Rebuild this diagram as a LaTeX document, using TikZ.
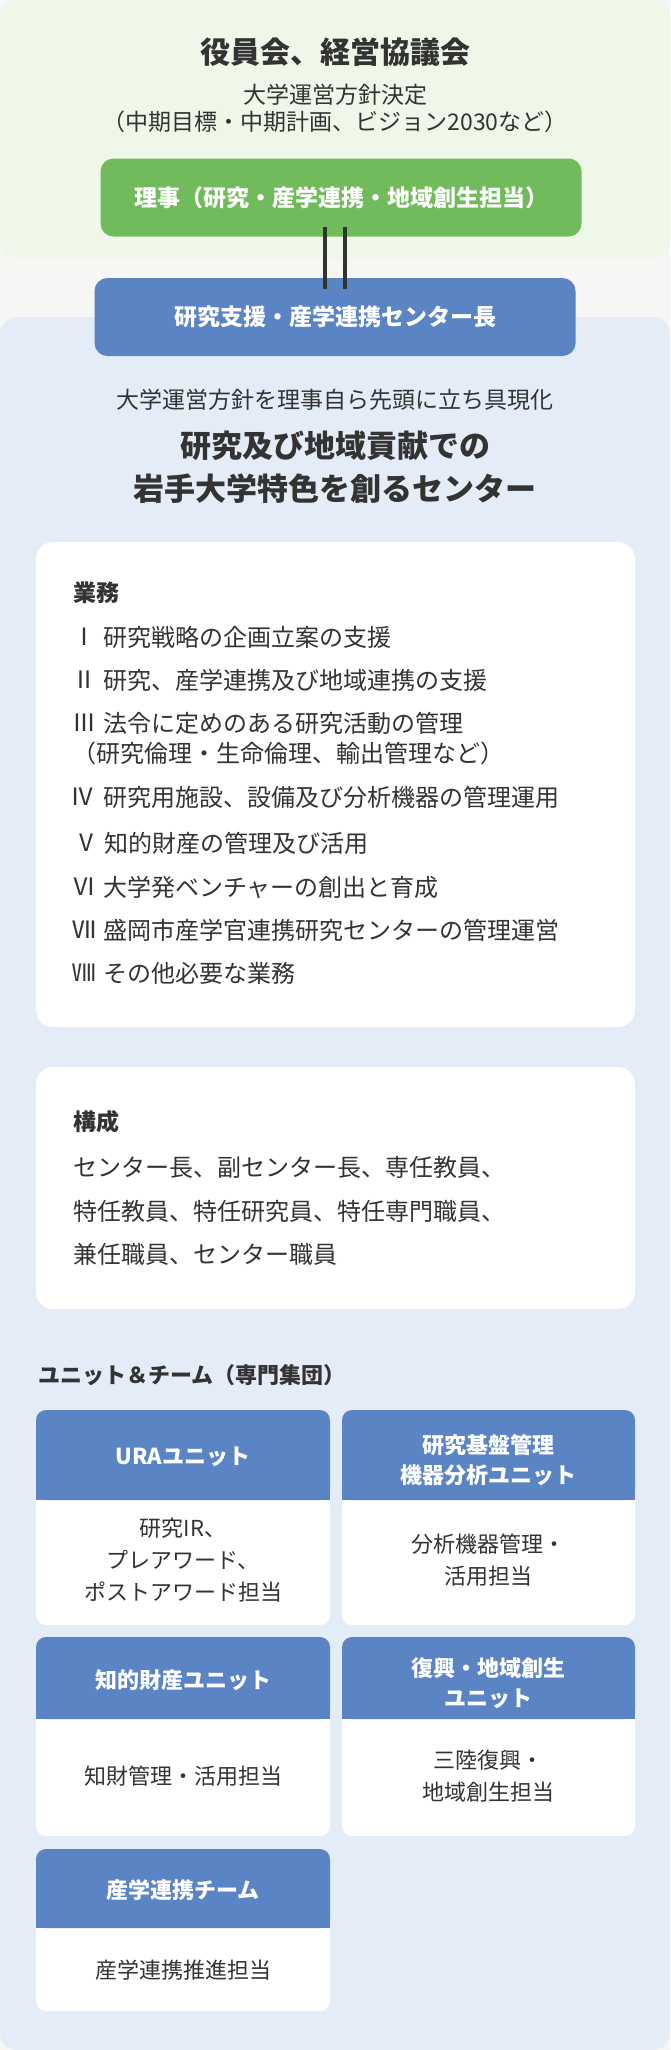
\documentclass[tikz,border=0pt]{standalone}
\usepackage{fontspec}
\setmainfont{Noto Sans CJK JP}
\newcommand\fsz[2]{\fontsize{#1}{#2}\selectfont}
\definecolor{ink}{HTML}{333333}
\definecolor{pagegray}{HTML}{F6F6F4}
\definecolor{boardgreen}{HTML}{EFF7E9}
\definecolor{centerblue}{HTML}{E4ECF7}
\definecolor{rijigreen}{HTML}{72BB5C}
\definecolor{headblue}{HTML}{5B84C4}
\tikzstyle{every node}=[inner sep=0pt, text=ink]
\tikzstyle{rolebox}=[rounded corners=13pt, minimum width=481pt, minimum height=78pt, text=white, font=\bfseries\fsz{23}{28}]
\tikzstyle{panel}=[fill=white, rounded corners=17pt]
\tikzstyle{panelhead}=[anchor=west, font=\bfseries\fsz{23}{28}]
\tikzstyle{item}=[anchor=west, font=\fsz{24}{28}]
\tikzstyle{unithead}=[text=white, align=center, font=\bfseries\fsz{22}{30}]
\tikzstyle{unitbody}=[align=center, font=\fsz{22}{32}]

\begin{document}
\begin{tikzpicture}[x=1pt, y=-1pt]
\useasboundingbox (0,0) rectangle (670,2050);
% Backgrounds
    \fill[pagegray] (0,0) rectangle (670,2050);
    \fill[boardgreen, rounded corners=17pt] (0,0) rectangle (670,258);
    \fill[centerblue, rounded corners=17pt] (0,317) rectangle (670,2050);
% Board and director
    \node[font=\bfseries\fsz{30}{36}] (board) at (335,52) {役員会、経営協議会};
    \node[font=\fsz{23}{27}, align=center] (policy) at (335,108.5) {大学運営方針決定\\（中期目標・中期計画、ビジョン2030など）};
    \node[rolebox, fill=rijigreen] (riji) at (341,197.5) {理事（研究・産学連携・地域創生担当）};
    \node[rolebox, fill=headblue] (chief) at (335,317) {研究支援・産学連携センター長};
    \draw[ink, line width=4.5pt] ([xshift=-10pt, yshift=10pt]riji.south -| chief.south) -- ([xshift=-10pt, yshift=-11pt]chief.north);
    \draw[ink, line width=4.5pt] ([xshift=10pt, yshift=10pt]riji.south -| chief.south) -- ([xshift=10pt, yshift=-11pt]chief.north);
% Mission
    \node[font=\fsz{23}{28}] (mission) at (335,400) {大学運営方針を理事自ら先頭に立ち具現化};
    \node[font=\bfseries\fsz{31}{43}, align=center] (slogan) at (335,467.5) {研究及び地域貢献での\\岩手大学特色を創るセンター};
% Duties
    \fill[panel] (36,542) rectangle (635,1027);
    \node[panelhead] (duties) at (73,593) {業務};
    \node[item] (n1) at (72,637) {Ⅰ};
    \node[item] (d1) at (103,637) {研究戦略の企画立案の支援};
    \node[item] (n2) at (72,680) {Ⅱ};
    \node[item] (d2) at (103,680) {研究、産学連携及び地域連携の支援};
    \node[item] (n3) at (72,723) {Ⅲ};
    \node[item] (d3) at (103,723) {法令に定めのある研究活動の管理};
    \node[item] (d3b) at (72,753) {（研究倫理・生命倫理、輸出管理など）};
    \node[item] (n4) at (70,797) {Ⅳ};
    \node[item] (d4) at (103,797) {研究用施設、設備及び分析機器の管理運用};
    \node[item] (n5) at (74,843) {Ⅴ};
    \node[item] (d5) at (104,843) {知的財産の管理及び活用};
    \node[item] (n6) at (72,887) {Ⅵ};
    \node[item] (d6) at (103,887) {大学発ベンチャーの創出と育成};
    \node[item] (n7) at (72,930) {Ⅶ};
    \node[item] (d7) at (103,930) {盛岡市産学官連携研究センターの管理運営};
    \node[item] (n8) at (72,973) {Ⅷ};
    \node[item] (d8) at (103,973) {その他必要な業務};
% Staff
    \fill[panel] (36,1067) rectangle (635,1309);
    \node[panelhead] (staff) at (73,1122) {構成};
    \node[item] (s1) at (73,1167) {センター長、副センター長、専任教員、};
    \node[item] (s2) at (73,1211) {特任教員、特任研究員、特任専門職員、};
    \node[item] (s3) at (73,1254) {兼任職員、センター職員};
% Units and teams
    \node[anchor=west, font=\bfseries\fsz{22}{28}] (units) at (38,1375) {ユニット＆チーム（専門集団）};
    \fill[white, rounded corners=10pt] (36,1410) rectangle (330,1625);
    \fill[headblue, rounded corners=10pt] (36,1410) rectangle (330,1500);
    \fill[headblue] (36,1425) rectangle (330,1500);
    \node[unithead] (ura) at (183,1457) {URAユニット};
    \node[unitbody] (urabody) at (183,1560) {研究IR、\\プレアワード、\\ポストアワード担当};
    \fill[white, rounded corners=10pt] (342,1410) rectangle (635,1625);
    \fill[headblue, rounded corners=10pt] (342,1410) rectangle (635,1500);
    \fill[headblue] (342,1425) rectangle (635,1500);
    \node[unithead] (kiban) at (488.5,1460) {研究基盤管理\\機器分析ユニット};
    \node[unitbody] (kibanbody) at (488.5,1560) {分析機器管理・\\活用担当};
    \fill[white, rounded corners=10pt] (36,1637) rectangle (330,1836);
    \fill[headblue, rounded corners=10pt] (36,1637) rectangle (330,1719);
    \fill[headblue] (36,1652) rectangle (330,1719);
    \node[unithead] (chizai) at (183,1680) {知的財産ユニット};
    \node[unitbody] (chizaibody) at (183,1776) {知財管理・活用担当};
    \fill[white, rounded corners=10pt] (342,1637) rectangle (635,1836);
    \fill[headblue, rounded corners=10pt] (342,1637) rectangle (635,1719);
    \fill[headblue] (342,1652) rectangle (635,1719);
    \node[unithead] (fukko) at (488.5,1683) {復興・地域創生\\ユニット};
    \node[unitbody] (fukkobody) at (488.5,1776) {三陸復興・\\地域創生担当};
    \fill[white, rounded corners=10pt] (36,1849) rectangle (330,2011);
    \fill[headblue, rounded corners=10pt] (36,1849) rectangle (330,1928);
    \fill[headblue] (36,1864) rectangle (330,1928);
    \node[unithead] (sangaku) at (183,1890) {産学連携チーム};
    \node[unitbody] (sangakubody) at (183,1970) {産学連携推進担当};
\end{tikzpicture}
\end{document}
